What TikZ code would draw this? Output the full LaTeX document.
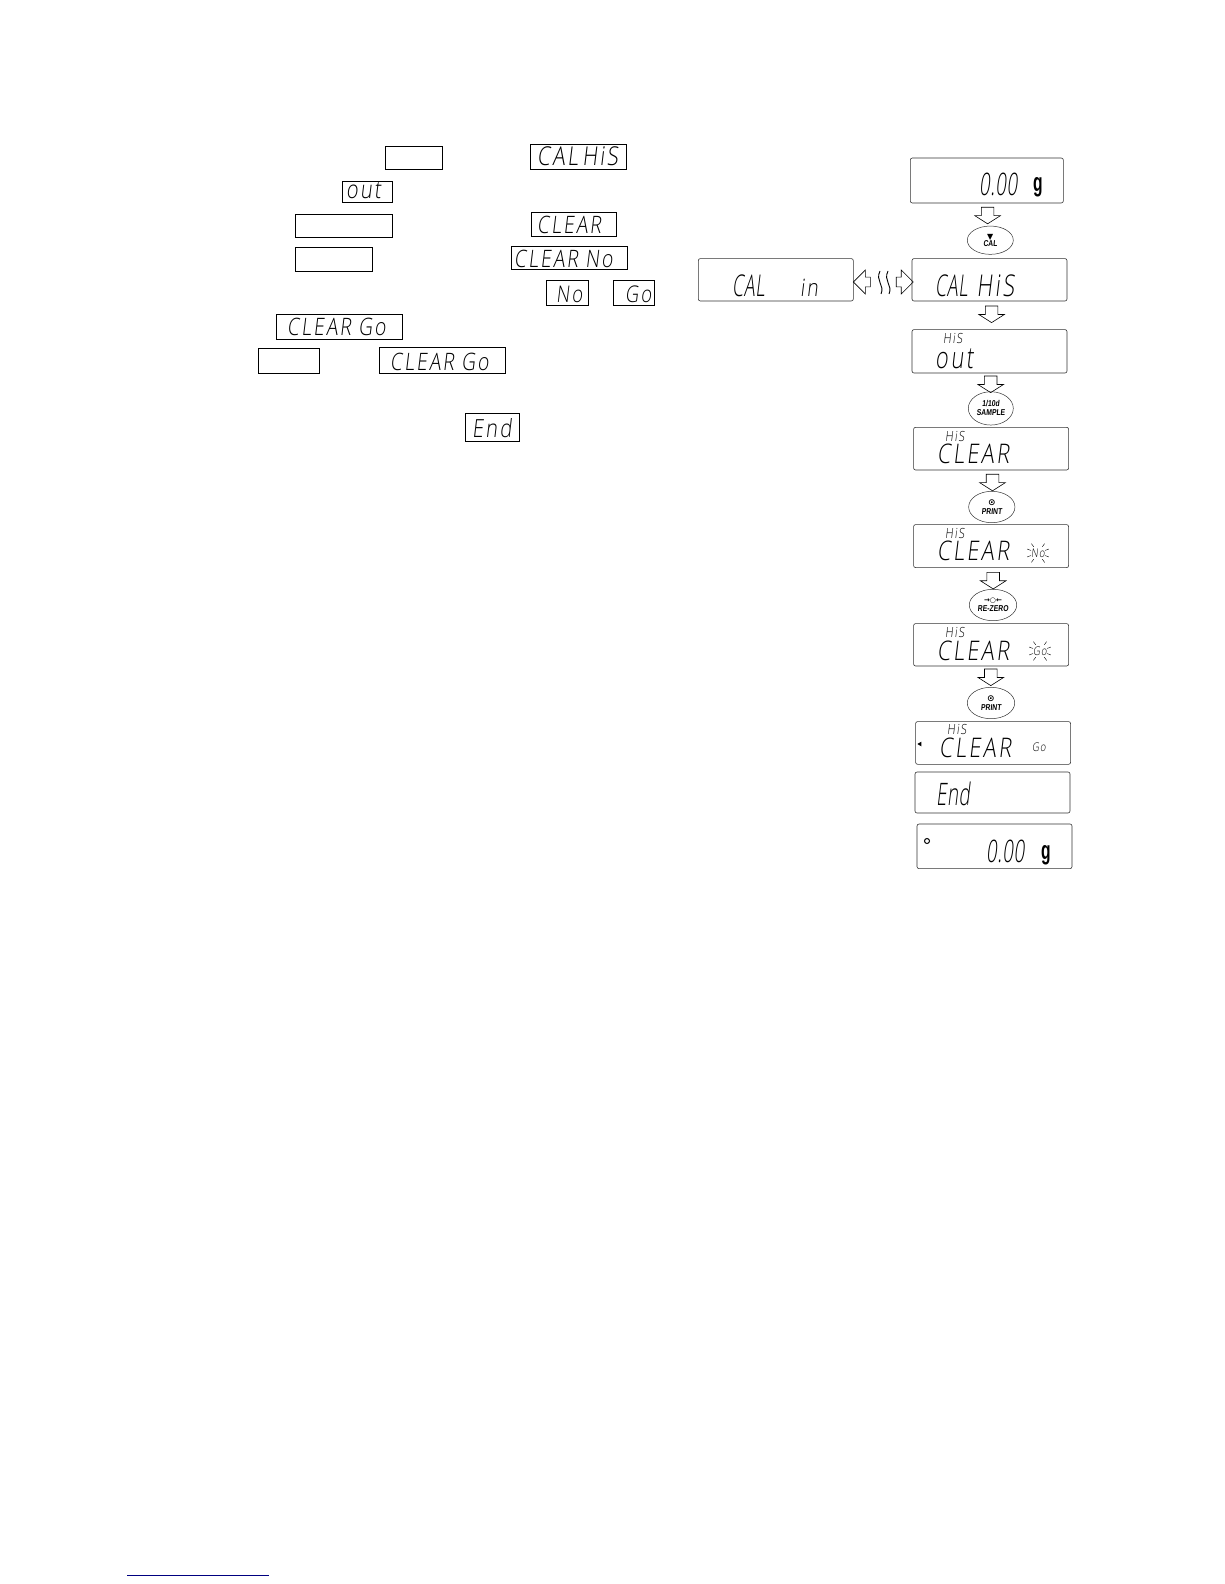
\documentclass[tikz,border=0pt]{standalone}
\usepackage{fontspec}
\setmainfont{Liberation Sans}
\newfontfamily\lcdfont[FakeStretch=.8,FakeSlant=.12,LetterSpace=9]{Open Sans Light}
\newfontfamily\lcdmid[FakeStretch=.72,FakeSlant=.12,LetterSpace=9]{Open Sans Light}
\newfontfamily\lcdtall[FakeStretch=.6,FakeSlant=.12,LetterSpace=2]{Open Sans Light}
\newfontfamily\gramfont[FakeStretch=.6]{Liberation Sans}
\newfontfamily\btnfont[FakeStretch=.8,FakeSlant=.1]{Liberation Sans}
\newfontfamily\symfont{DejaVu Sans}
\usepackage{tikz}
\usetikzlibrary{shapes,arrows,positioning}

\begin{document}
\begin{tikzpicture}[
    x=1pt, y=-1pt,
    panel/.style={draw=black!80, line width=0.6pt, rounded corners=2pt, anchor=north west, inner sep=0pt, minimum width=155pt, minimum height=#1},
    panel/.default=43pt,
    keybox/.style={draw, line width=0.7pt, anchor=north west, inner sep=0pt},
    lcd/.style={font=\lcdfont\fontsize{#1}{#1}\selectfont, anchor=base west, inner sep=0pt},
    lcd/.default=27pt,
    gram/.style={font=\gramfont\bfseries\fontsize{26pt}{26pt}\selectfont, anchor=base west, inner sep=0pt},
    button/.style={draw=black!80, line width=0.5pt, ellipse, inner sep=0pt, align=center, font=\btnfont\bfseries\fontsize{8.5pt}{9pt}\selectfont},
    downarrow/.style={draw, line width=0.6pt, single arrow, rotate=-90, inner sep=6pt, minimum height=16.5pt, minimum width=25pt, single arrow head extend=6.5pt, single arrow tip angle=115, single arrow head indent=0pt},
    sidearrow/.style={draw, line width=0.6pt, single arrow, shape border rotate=#1, inner sep=4.5pt, minimum height=17pt, minimum width=24pt, single arrow head extend=7pt, single arrow tip angle=90, single arrow head indent=0pt},
    ray/.style={line width=0.4pt},
    squiggle/.style={line width=0.9pt}
]
    \useasboundingbox (0,0) rectangle (1224,1584);

    % Boxes beside the instructions
    \node[keybox, minimum width=56.4pt, minimum height=22.4pt] (keycal) at (385.3,146.3) {};
    \node[keybox, minimum width=95.4pt, minimum height=24.4pt] (boxcalhis) at (530.3,144.3) {};
    \node[lcd=26pt] (txtcalhis) at (537,165) {CAL\,HiS};
    \node[keybox, minimum width=49.4pt, minimum height=21.6pt] (boxout) at (342.3,180.7) {};
    \node[lcd=25pt] (txtout) at (346,198) {out};
    \node[keybox, minimum width=96.4pt, minimum height=22.4pt] (keysample) at (295.3,214.3) {};
    \node[keybox, minimum width=84.4pt, minimum height=23.4pt] (boxclear) at (531.3,212.3) {};
    \node[lcd=24pt] (txtclear) at (537,233) {CLEAR};
    \node[keybox, minimum width=76.4pt, minimum height=23.4pt] (keyprint) at (295.3,247.3) {};
    \node[keybox, minimum width=115.4pt, minimum height=23pt] (boxclearno) at (511.3,246.3) {};
    \node[lcd=24pt] (txtclearno) at (514,267) {CLEAR No};
    \node[keybox, minimum width=41.4pt, minimum height=25pt] (boxno) at (546.3,280.3) {};
    \node[lcd=23pt] (txtno) at (556,302) {No};
    \node[keybox, minimum width=40.4pt, minimum height=25pt] (boxgo) at (613.3,280.3) {};
    \node[lcd=23pt] (txtgo) at (625,302) {Go};
    \node[keybox, minimum width=125.4pt, minimum height=24.4pt] (boxcleargo) at (276.3,314.3) {};
    \node[lcd=24pt] (txtcleargo) at (287,335) {CLEAR Go};
    \node[keybox, minimum width=60.4pt, minimum height=24.4pt] (keyprinttwo) at (258.3,348.3) {};
    \node[keybox, minimum width=125.4pt, minimum height=25.4pt] (boxcleargotwo) at (379.3,347.3) {};
    \node[lcd=24pt] (txtcleargotwo) at (390,370) {CLEAR Go};
    \node[keybox, minimum width=53.4pt, minimum height=27.4pt] (boxend) at (465.3,413.3) {};
    \node[lcd=25pt] (txtend) at (472,437) {End};

    % Displays, top to bottom
    \node[panel=45pt, minimum width=153pt] (zero) at (910,157.7) {};
    \node[lcd=31pt, font=\lcdtall\fontsize{31pt}{31pt}\selectfont] (zerotxt) at (979,195) {0.00};
    \node[gram] (zerog) at (1033,191.5) {g};

    \node[panel=42.4pt] (calhis) at (911.7,258.3) {};
    \node[lcd=30pt] (calhistxt) at (935,296) {{\lcdtall CAL} {\lcdmid HiS}};
    \node[panel=42.4pt] (calin) at (698,258.3) {};
    \node[lcd=30pt, font=\lcdtall\fontsize{30pt}{30pt}\selectfont] (calintxt) at (732,296) {CAL};
    \node[lcd=24pt] (intxt) at (800,296) {in};

    \node[panel=43.4pt] (out) at (911.7,329.3) {};
    \node[lcd=14pt] (outhis) at (943,343) {HiS};
    \node[lcd=30pt, font=\lcdmid\fontsize{30pt}{30pt}\selectfont] (outtxt) at (935,368) {out};

    \node[panel=42.7pt] (clear) at (913.3,427) {};
    \node[lcd=14pt] (clearhis) at (945,441) {HiS};
    \node[lcd=27pt] (cleartxt) at (937,463) {CLEAR};

    \node[panel=43pt] (clearno) at (913.3,524.3) {};
    \node[lcd=14pt] (clearnohis) at (945,538) {HiS};
    \node[lcd=27pt] (clearnotxt) at (937,560) {CLEAR};
    \node[lcd=12pt, anchor=center] (noflash) at (1038,553) {No};
    \foreach \a in {20,55,125,160,200,235,305,340}
        \draw[ray, shift={(noflash)}] (\a:7.5) -- (\a:11.5);

    \node[panel=42.4pt] (cleargoflash) at (913.3,623.3) {};
    \node[lcd=14pt] (flashhis) at (945,637) {HiS};
    \node[lcd=27pt] (flashtxt) at (937,660) {CLEAR};
    \node[lcd=12pt, anchor=center] (goflash) at (1040,651) {Go};
    \foreach \a in {20,55,125,160,200,235,305,340}
        \draw[ray, shift={(goflash)}] (\a:7.5) -- (\a:11.5);

    \node[panel=42.7pt] (cleargo) at (915.3,721.3) {};
    \node[lcd=14pt] (cleargohis) at (947,734) {HiS};
    \node[lcd=27pt] (cleargotxt) at (939,757) {CLEAR};
    \node[lcd=12pt] (cleargosmall) at (1032,751) {Go};
    \node[fill, isosceles triangle, isosceles triangle apex angle=60, shape border rotate=180, inner sep=0pt, minimum size=4pt] (marker) at (920,744) {};

    \node[panel=41pt] (finish) at (914.7,771.7) {};
    \node[lcd=31pt, font=\lcdtall\fontsize{31pt}{31pt}\selectfont] (finishtxt) at (936,805) {End};

    \node[panel=44.6pt] (zeroend) at (916.7,823.7) {};
    \node[draw, circle, line width=1pt, inner sep=0pt, minimum size=5pt] (stable) at (927,841) {};
    \node[lcd=31pt, font=\lcdtall\fontsize{31pt}{31pt}\selectfont] (zeroendtxt) at (986,862) {0.00};
    \node[gram] (zeroendg) at (1041,859) {g};

    % Keys
    \node[button, minimum width=46pt, minimum height=28.3pt] (calkey) at (990.3,240.2) {{\symfont\fontsize{8pt}{8pt}\selectfont ▼}\\[-2pt]CAL};
    \node[button, minimum width=45pt, minimum height=33.3pt] (samplekey) at (990.8,408.4) {1/10d\\SAMPLE};
    \node[button, minimum width=46.3pt, minimum height=31.4pt] (printkey) at (991.8,507) {{\symfont\fontsize{9pt}{9pt}\selectfont ⊙}\\PRINT};
    \node[button, minimum width=47.4pt, minimum height=31.4pt] (zerokey) at (993,605) {{\symfont\fontsize{7pt}{7pt}\selectfont →○←}\\RE-ZERO};
    \node[button, minimum width=47.4pt, minimum height=31.4pt] (printkeytwo) at (991,703) {{\symfont\fontsize{9pt}{9pt}\selectfont ⊙}\\PRINT};

    % Arrows
    \node[downarrow] (arrowa) at (987.6,213.5) {};
    \node[downarrow] (arrowb) at (991.6,312.3) {};
    \node[downarrow] (arrowc) at (990.7,382.3) {};
    \node[downarrow] (arrowd) at (992.5,480.5) {};
    \node[downarrow] (arrowe) at (993.2,578.6) {};
    \node[downarrow] (arrowf) at (990.8,675.3) {};
    \node[sidearrow=180] (arrowleft) at (864.3,282) {};
    \node[sidearrow=0] (arrowright) at (902.3,282) {};

    % Wavy break
    \coordinate (wavea) at (880,271);
    \coordinate (waveb) at (881,294);
    \coordinate (wavec) at (888,271);
    \coordinate (waved) at (889,294);
    \draw[squiggle] (wavea) .. controls (875,281) and (885,285) .. (waveb);
    \draw[squiggle] (wavec) .. controls (883,281) and (893,285) .. (waved);

    % Rule at the foot of the page
    \coordinate (rulea) at (127,1575);
    \coordinate (ruleb) at (269,1575);
    \draw[line width=1pt, color=blue!50!black] (rulea) -- (ruleb);
\end{tikzpicture}
\end{document}
